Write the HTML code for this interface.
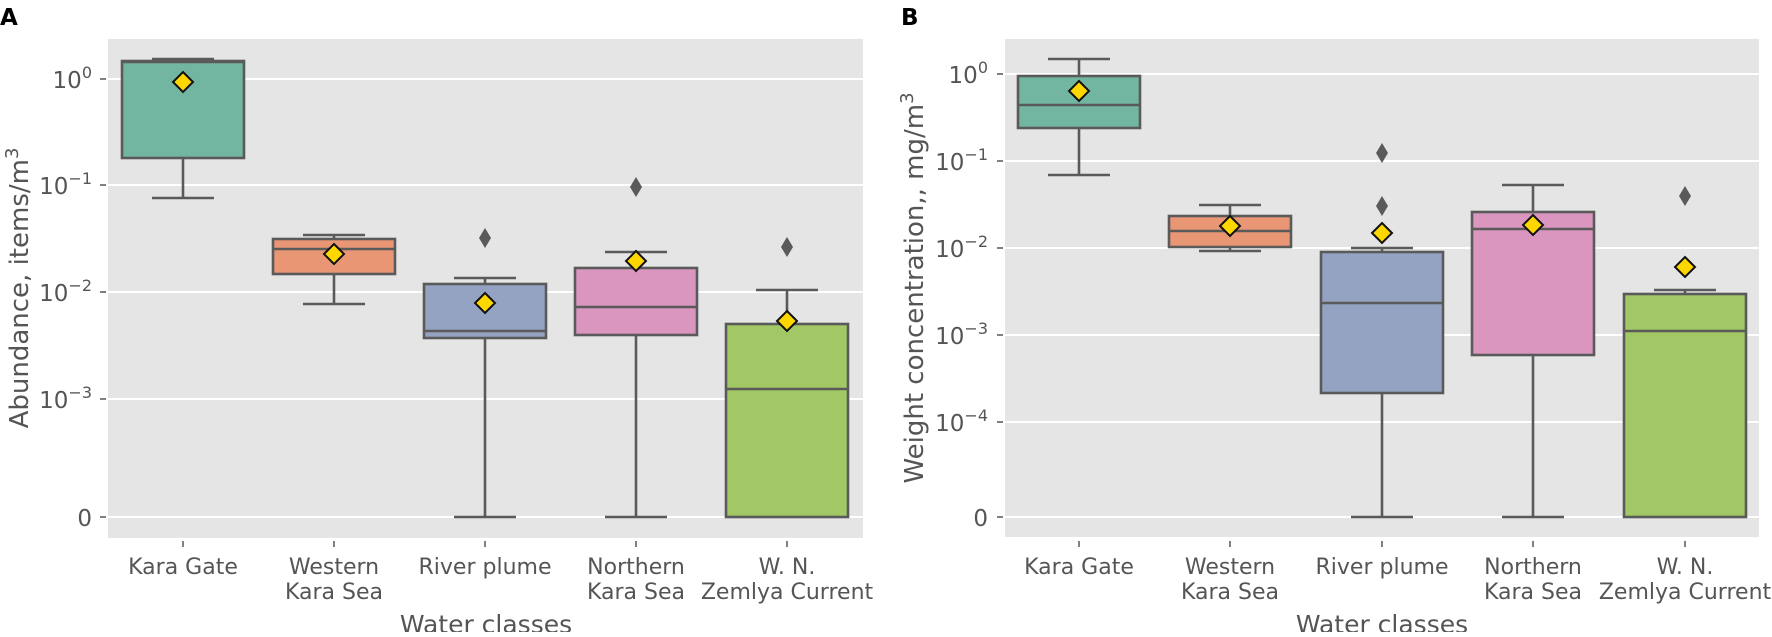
<!DOCTYPE html>
<html><head><meta charset="utf-8"><style>
html,body{margin:0;padding:0;background:#fff;}
svg text{font-family:"DejaVu Sans","Liberation Sans",sans-serif;fill:#555;}
</style></head><body>
<svg width="1772" height="632" viewBox="0 0 1772 632" xmlns="http://www.w3.org/2000/svg">
<text x="0" y="25" style="font-weight:bold;fill:#000;font-size:23px">A</text>
<text x="901" y="25" style="font-weight:bold;fill:#000;font-size:23px">B</text>

<rect x="108" y="39" width="755" height="499" fill="#e5e5e5"/>
<g stroke="#fff" stroke-width="2">
<line x1="108" x2="863" y1="79" y2="79"/><line x1="108" x2="863" y1="185" y2="185"/>
<line x1="108" x2="863" y1="292" y2="292"/><line x1="108" x2="863" y1="399" y2="399"/>
<line x1="108" x2="863" y1="517" y2="517"/>
</g>
<g stroke="#555" stroke-width="1.5">
<line x1="100" x2="106" y1="79" y2="79"/><line x1="100" x2="106" y1="185" y2="185"/>
<line x1="100" x2="106" y1="292" y2="292"/><line x1="100" x2="106" y1="399" y2="399"/>
<line x1="100" x2="106" y1="517" y2="517"/>
<line x1="183" x2="183" y1="541" y2="547"/><line x1="334" x2="334" y1="541" y2="547"/>
<line x1="485" x2="485" y1="541" y2="547"/><line x1="636" x2="636" y1="541" y2="547"/>
<line x1="787" x2="787" y1="541" y2="547"/>
</g>
<g style="font-size:23px" text-anchor="end">
<text x="92" y="88">10<tspan dy="-10" style="font-size:16px">0</tspan></text>
<text x="92" y="194">10<tspan dy="-10" style="font-size:16px">−1</tspan></text>
<text x="92" y="301">10<tspan dy="-10" style="font-size:16px">−2</tspan></text>
<text x="92" y="408">10<tspan dy="-10" style="font-size:16px">−3</tspan></text>
<text x="92" y="526">0</text>
</g>
<text transform="translate(28,288) rotate(-90)" text-anchor="middle" style="font-size:26px">Abundance, items/m<tspan dy="-10" style="font-size:18px">3</tspan></text>

<rect x="1005" y="39" width="754" height="498" fill="#e5e5e5"/>
<g stroke="#fff" stroke-width="2">
<line x1="1005" x2="1759" y1="74" y2="74"/><line x1="1005" x2="1759" y1="161" y2="161"/>
<line x1="1005" x2="1759" y1="248" y2="248"/><line x1="1005" x2="1759" y1="335" y2="335"/>
<line x1="1005" x2="1759" y1="422" y2="422"/><line x1="1005" x2="1759" y1="517" y2="517"/>
</g>
<g stroke="#555" stroke-width="1.5">
<line x1="997" x2="1003" y1="74" y2="74"/><line x1="997" x2="1003" y1="161" y2="161"/>
<line x1="997" x2="1003" y1="248" y2="248"/><line x1="997" x2="1003" y1="335" y2="335"/>
<line x1="997" x2="1003" y1="422" y2="422"/><line x1="997" x2="1003" y1="517" y2="517"/>
<line x1="1079" x2="1079" y1="541" y2="547"/><line x1="1230" x2="1230" y1="541" y2="547"/>
<line x1="1382" x2="1382" y1="541" y2="547"/><line x1="1533" x2="1533" y1="541" y2="547"/>
<line x1="1685" x2="1685" y1="541" y2="547"/>
</g>
<g style="font-size:23px" text-anchor="end">
<text x="988" y="83">10<tspan dy="-10" style="font-size:16px">0</tspan></text>
<text x="988" y="170">10<tspan dy="-10" style="font-size:16px">−1</tspan></text>
<text x="988" y="257">10<tspan dy="-10" style="font-size:16px">−2</tspan></text>
<text x="988" y="344">10<tspan dy="-10" style="font-size:16px">−3</tspan></text>
<text x="988" y="431">10<tspan dy="-10" style="font-size:16px">−4</tspan></text>
<text x="988" y="526">0</text>
</g>
<text transform="translate(923,288) rotate(-90)" text-anchor="middle" style="font-size:26px">Weight concentration,, mg/m<tspan dy="-10" style="font-size:18px">3</tspan></text>

<g style="font-size:22px" text-anchor="middle">
<text x="183" y="574">Kara Gate</text>
<text x="334" y="574">Western</text><text x="334" y="599">Kara Sea</text>
<text x="485" y="574">River plume</text>
<text x="636" y="574">Northern</text><text x="636" y="599">Kara Sea</text>
<text x="787" y="574">W. N.</text><text x="787" y="599">Zemlya Current</text>
<text x="1079" y="574">Kara Gate</text>
<text x="1230" y="574">Western</text><text x="1230" y="599">Kara Sea</text>
<text x="1382" y="574">River plume</text>
<text x="1533" y="574">Northern</text><text x="1533" y="599">Kara Sea</text>
<text x="1685" y="574">W. N.</text><text x="1685" y="599">Zemlya Current</text>
</g>
<g style="font-size:25px" text-anchor="middle">
<text x="486" y="633">Water classes</text>
<text x="1382" y="633">Water classes</text>
</g>

<g stroke="#5a5a5a" stroke-width="2.6">
<line x1="183" x2="183" y1="59" y2="61"/><line x1="152" x2="214" y1="59" y2="59"/>
<line x1="183" x2="183" y1="158" y2="198"/><line x1="152" x2="214" y1="198" y2="198"/>
<rect x="122" y="61" width="122" height="97" fill="#72b6a1"/>
<line x1="122" x2="244" y1="62" y2="62"/>
<line x1="334" x2="334" y1="235" y2="239"/><line x1="303" x2="365" y1="235" y2="235"/>
<line x1="334" x2="334" y1="274" y2="304"/><line x1="303" x2="365" y1="304" y2="304"/>
<rect x="273" y="239" width="122" height="35" fill="#e99675"/>
<line x1="273" x2="395" y1="249" y2="249"/>
<line x1="485" x2="485" y1="278" y2="284"/><line x1="454" x2="516" y1="278" y2="278"/>
<line x1="485" x2="485" y1="338" y2="517"/><line x1="454" x2="516" y1="517" y2="517"/>
<rect x="424" y="284" width="122" height="54" fill="#95a3c3"/>
<line x1="424" x2="546" y1="331" y2="331"/>
<line x1="636" x2="636" y1="252" y2="268"/><line x1="605" x2="667" y1="252" y2="252"/>
<line x1="636" x2="636" y1="335" y2="517"/><line x1="605" x2="667" y1="517" y2="517"/>
<rect x="575" y="268" width="122" height="67" fill="#db96c0"/>
<line x1="575" x2="697" y1="307" y2="307"/>
<line x1="787" x2="787" y1="290" y2="324"/><line x1="756" x2="818" y1="290" y2="290"/>
<rect x="726" y="324" width="122" height="193" fill="#a2c865"/>
<line x1="726" x2="848" y1="389" y2="389"/>

<line x1="1079" x2="1079" y1="59" y2="76"/><line x1="1048" x2="1110" y1="59" y2="59"/>
<line x1="1079" x2="1079" y1="128" y2="175"/><line x1="1048" x2="1110" y1="175" y2="175"/>
<rect x="1018" y="76" width="122" height="52" fill="#72b6a1"/>
<line x1="1018" x2="1140" y1="105" y2="105"/>
<line x1="1230" x2="1230" y1="205" y2="216"/><line x1="1199" x2="1261" y1="205" y2="205"/>
<line x1="1230" x2="1230" y1="247" y2="251"/><line x1="1199" x2="1261" y1="251" y2="251"/>
<rect x="1169" y="216" width="122" height="31" fill="#e99675"/>
<line x1="1169" x2="1291" y1="231" y2="231"/>
<line x1="1382" x2="1382" y1="248" y2="252"/><line x1="1351" x2="1413" y1="248" y2="248"/>
<line x1="1382" x2="1382" y1="393" y2="517"/><line x1="1351" x2="1413" y1="517" y2="517"/>
<rect x="1321" y="252" width="122" height="141" fill="#95a3c3"/>
<line x1="1321" x2="1443" y1="303" y2="303"/>
<line x1="1533" x2="1533" y1="185" y2="212"/><line x1="1502" x2="1564" y1="185" y2="185"/>
<line x1="1533" x2="1533" y1="355" y2="517"/><line x1="1502" x2="1564" y1="517" y2="517"/>
<rect x="1472" y="212" width="122" height="143" fill="#db96c0"/>
<line x1="1472" x2="1594" y1="229" y2="229"/>
<line x1="1685" x2="1685" y1="290" y2="294"/><line x1="1654" x2="1716" y1="290" y2="290"/>
<rect x="1624" y="294" width="122" height="223" fill="#a2c865"/>
<line x1="1624" x2="1746" y1="331" y2="331"/>
</g>

<g fill="#5a5a5a">
<path d="M485 228 l6 10 l-6 10 l-6 -10z"/>
<path d="M636 177 l6 10 l-6 10 l-6 -10z"/>
<path d="M787 237 l6 10 l-6 10 l-6 -10z"/>
<path d="M1382 143 l6 10 l-6 10 l-6 -10z"/>
<path d="M1382 196 l6 10 l-6 10 l-6 -10z"/>
<path d="M1685 186 l6 10 l-6 10 l-6 -10z"/>
</g>
<g fill="#ffd700" stroke="#111" stroke-width="2">
<path d="M183 72 l10 10 l-10 10 l-10 -10z"/>
<path d="M334 244 l10 10 l-10 10 l-10 -10z"/>
<path d="M485 293 l10 10 l-10 10 l-10 -10z"/>
<path d="M636 251 l10 10 l-10 10 l-10 -10z"/>
<path d="M787 311 l10 10 l-10 10 l-10 -10z"/>
<path d="M1079 81 l10 10 l-10 10 l-10 -10z"/>
<path d="M1230 216 l10 10 l-10 10 l-10 -10z"/>
<path d="M1382 223 l10 10 l-10 10 l-10 -10z"/>
<path d="M1533 215 l10 10 l-10 10 l-10 -10z"/>
<path d="M1685 257 l10 10 l-10 10 l-10 -10z"/>
</g>
</svg>
</body></html>
